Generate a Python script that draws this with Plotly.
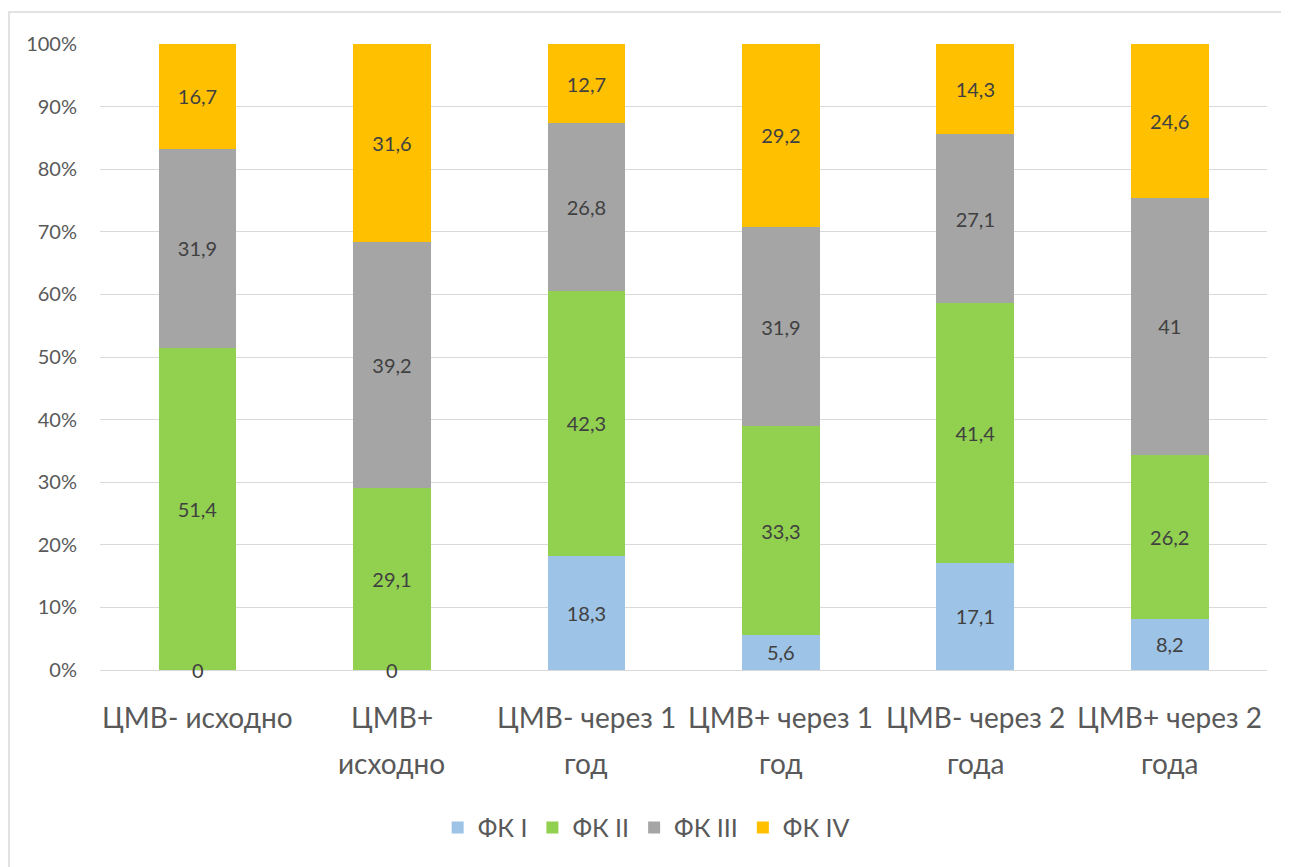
import plotly.graph_objects as go

# categories, two lines each as in the original axis
cat_line1 = ['ЦМВ- исходно', 'ЦМВ+', 'ЦМВ- через 1', 'ЦМВ+ через 1', 'ЦМВ- через 2', 'ЦМВ+ через 2']
cat_line2 = ['', 'исходно', 'год', 'год', 'года', 'года']
categories = [a + ' ' + b if b else a for a, b in zip(cat_line1, cat_line2)]

fk1 = [0, 0, 18.3, 5.6, 17.1, 8.2]
fk2 = [51.4, 29.1, 42.3, 33.3, 41.4, 26.2]
fk3 = [31.9, 39.2, 26.8, 31.9, 27.1, 41]
fk4 = [16.7, 31.6, 12.7, 29.2, 14.3, 24.6]

series = [('ФК I', fk1, '#9DC3E6'), ('ФК II', fk2, '#92D050'),
          ('ФК III', fk3, '#A5A5A5'), ('ФК IV', fk4, '#FFC000')]

y_ticks = [0, 10, 20, 30, 40, 50, 60, 70, 80, 90, 100]
y_tick_labels = ['0%', '10%', '20%', '30%', '40%', '50%', '60%', '70%', '80%', '90%', '100%']

FONT = 'Lato, "Open Sans", sans-serif'


def fmt(v):
    return f'{v:g}'.replace('.', ',')


fig = go.Figure()
for name, vals, color in series:
    fig.add_trace(go.Bar(
        x=categories, y=vals, name=name,
        marker=dict(color=color, line=dict(width=0)),
        text=[fmt(v) for v in vals],
        textposition='inside', insidetextanchor='middle', textangle=0,
        textfont=dict(family=FONT, size=20, color='#404040'),
        hoverinfo='x+y+name',
    ))

# zero-height segments still get their label, as in the original
for name, vals, color in series:
    for c, v in zip(categories, vals):
        if v == 0:
            fig.add_annotation(x=c, y=0, text=fmt(v), showarrow=False,
                               xref='x', yref='y', yanchor='middle',
                               font=dict(family=FONT, size=20, color='#404040'))

# two-line category labels
for c, l1, l2 in zip(categories, cat_line1, cat_line2):
    fig.add_annotation(x=c, y=-0.075, text=l1, showarrow=False, xref='x', yref='paper',
                       yanchor='middle', font=dict(family=FONT, size=28, color='#595959'))
    if l2:
        fig.add_annotation(x=c, y=-0.148, text=l2, showarrow=False, xref='x', yref='paper',
                           yanchor='middle', font=dict(family=FONT, size=28, color='#595959'))

# page body adds an 8px offset, so the figure is 8px smaller than the window
fig.update_layout(
    width=1281, height=859,
    barmode='stack', barnorm='percent', bargap=0.6,
    plot_bgcolor='white', paper_bgcolor='white',
    margin=dict(l=92, r=22, t=36, b=197),
    font=dict(family=FONT, color='#595959'),
    xaxis=dict(showticklabels=False, showline=False, showgrid=False, zeroline=False),
    yaxis=dict(range=[0, 100], tickvals=y_ticks, ticktext=y_tick_labels,
               tickfont=dict(family=FONT, size=20, color='#595959'),
               showgrid=True, gridcolor='#D9D9D9', gridwidth=1,
               zeroline=True, zerolinecolor='#D9D9D9', zerolinewidth=1,
               showline=False, ticks='', ticklabelstandoff=22),
    legend=dict(orientation='h', x=0.468, xanchor='center', y=-0.252, yanchor='middle',
                font=dict(family=FONT, size=25, color='#595959'),
                traceorder='normal', itemwidth=30),
    shapes=[dict(type='rect', xref='paper', yref='paper',
                 x0=(1 - 92) / 1167, x1=1 + 40 / 1167,
                 y0=-(197 + 30) / 626, y1=1 + 32 / 626,
                 line=dict(color='#D9D9D9', width=1.5), layer='below')],
)

fig.write_html('out.html')
